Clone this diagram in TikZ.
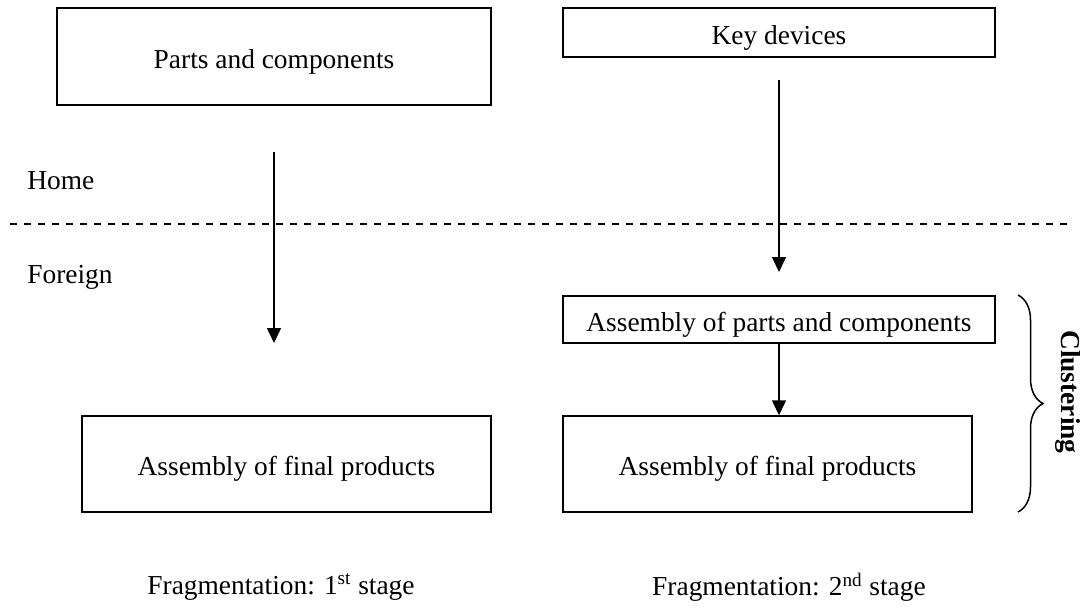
\documentclass[tikz,border=0pt]{standalone}
\usepackage{fontspec}
\setmainfont{Liberation Serif}
\usepackage{tikz}
\usetikzlibrary{arrows.meta,decorations.pathreplacing,positioning}
\tikzset{stage box/.style={rectangle, draw=black, line width=0.03cm, inner sep=0pt,
    minimum height=#1, text height=0.58cm, text depth=0.12cm, font=\fontsize{15.6}{18}\selectfont}}
\tikzset{flow edge/.style={draw=black, line width=0.03cm, -{Triangle[width=0.28cm,length=0.3cm]}}}
\tikzset{border line/.style={draw=black, line width=0.03cm, dash pattern=on 0.14cm off 0.14cm}}
\tikzset{plain label/.style={font=\fontsize{15.6}{18}\selectfont, inner sep=0pt}}

\begin{document}
\begin{tikzpicture}
  [x=0.02cm, y=-0.02cm]
  \useasboundingbox (0,0) rectangle (1090,609);

  \node [stage box=1.94cm, minimum width=8.68cm] (parts)    at (274,56.5)  {Parts and components};
  \node [stage box=0.98cm, minimum width=8.64cm] (keydev)   at (779,32.5)  {Key devices};
  \node [stage box=0.94cm, minimum width=8.64cm] (asmparts) at (779,319.5) {Assembly of parts and components};
  \node [stage box=1.92cm, minimum width=8.18cm] (final1)   at (286.5,464) {Assembly of final products};
  \node [stage box=1.92cm, minimum width=8.18cm] (final2)   at (767.5,464) {Assembly of final products};

  \node [plain label, anchor=west] (home)    at (27,181) {Home};
  \node [plain label, anchor=west] (foreign) at (27,277) {Foreign};
  \node [plain label] (stage1) at (281,587) {Fragmentation: 1\textsuperscript{st} stage};
  \node [plain label] (stage2) at (789,587) {Fragmentation: 2\textsuperscript{nd} stage};
  \node [plain label, font=\fontsize{15.6}{18}\selectfont\bfseries, rotate=-90] (cluster) at (1068,392) {Clustering};

  \coordinate (left)   at (10,224);
  \coordinate (right)  at (1070,224);
  \coordinate (a1top)  at (274,152);
  \coordinate (a1end)  at (274,343);
  \coordinate (a2top)  at (779,80);
  \coordinate (a2end)  at (779,272);
  \coordinate (btop)   at (1018,295);
  \coordinate (bbot)   at (1018,512);

  \draw [border line] (left) -- (right);
  \draw [flow edge]   (a1top) -- (a1end);
  \draw [flow edge]   (a2top) -- (a2end);
  \draw [flow edge]   (asmparts.south) -- (asmparts.south |- final2.north);
  \draw [line width=0.03cm, decorate, decoration={brace, amplitude=0.5cm}] (btop) -- (bbot);
\end{tikzpicture}
\end{document}
